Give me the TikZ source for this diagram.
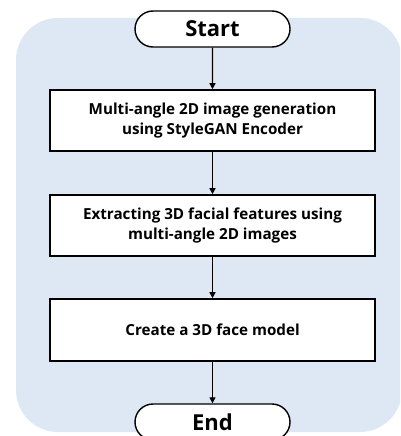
\documentclass[tikz,border=0pt]{standalone}
\usepackage{fontspec}
\setmainfont{Open Sans}
\usetikzlibrary{arrows.meta,shapes.misc}
\definecolor{bgblue}{HTML}{DEE8F4}
\tikzset{
  x=1pt,y=-1pt,
  procbox/.style={draw=black,line width=1.6pt,fill=white,minimum width=325pt,inner sep=0pt,align=center,font=\fontsize{15.2}{20}\selectfont\bfseries},
  term/.style={draw=black,line width=1.4pt,fill=white,rounded rectangle,minimum width=155pt,minimum height=36pt,inner sep=0pt,font=\fontsize{22}{26}\selectfont\bfseries},
  flow/.style={line width=1.3pt,-{Triangle[length=6pt,width=6pt]}}
}
\begin{document}
\begin{tikzpicture}
\useasboundingbox (0,0) rectangle (400,436);
\clip (0,0) rectangle (400,436);
\fill[bgblue,rounded corners=42pt] (16,18) rectangle (402,432);
\node[term] (start) at (212.5,29) {Start};
\node[procbox,minimum height=61pt] (b1) at (212.5,120.5) {Multi-angle 2D image generation\\using StyleGAN Encoder};
\node[procbox,minimum height=61pt] (b2) at (212.5,225.5) {Extracting 3D facial features using\\multi-angle 2D images};
\node[procbox,minimum height=62pt] (b3) at (212.5,330) {Create a 3D face model};
\node[term] (end) at (212.5,422) {End};
\draw[flow] (start) -- (b1);
\draw[flow] (b1) -- (b2);
\draw[flow] (b2) -- (b3);
\draw[flow] (b3) -- (end);
\end{tikzpicture}
\end{document}
